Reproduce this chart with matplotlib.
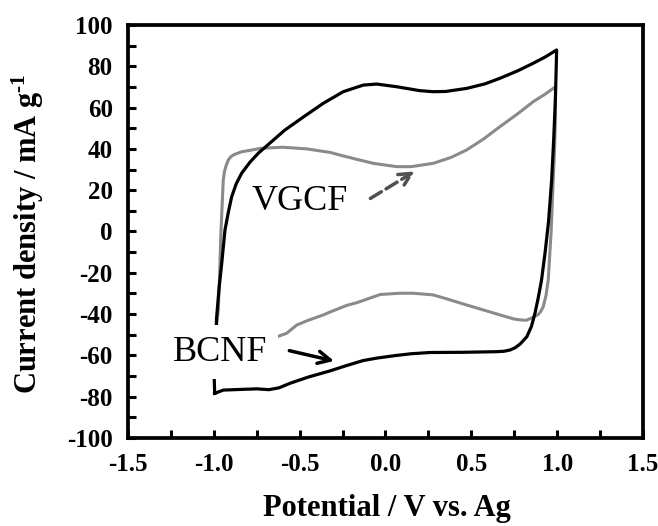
import matplotlib
matplotlib.use("Agg")
import matplotlib.pyplot as plt
from matplotlib.ticker import MultipleLocator

plt.rcParams['font.family'] = ['Liberation Serif', 'DejaVu Serif']
plt.rcParams['mathtext.fontset'] = 'custom'
plt.rcParams['mathtext.rm'] = 'Liberation Serif:bold'
plt.rcParams['mathtext.default'] = 'regular'
plt.rcParams['axes.unicode_minus'] = False

# BCNF loop (black), potential in V, current density in mA/g
bcnf_v = [-0.995, -0.998, -0.99, -0.984, -0.97, -0.954, -0.935, -0.915, -0.896,
          -0.87, -0.838, -0.79, -0.741, -0.65, -0.585, -0.46, -0.362, -0.246,
          -0.129, -0.051, 0.065, 0.2, 0.277, 0.35, 0.473, 0.58, 0.667, 0.77,
          0.859, 0.93, 0.997,
          0.99, 0.98, 0.968, 0.95, 0.93, 0.909, 0.89, 0.871, 0.85, 0.823,
          0.784, 0.755, 0.725, 0.69, 0.648, 0.45, 0.259, 0.15, 0.065, -0.05,
          -0.13, -0.23, -0.323, -0.45, -0.556, -0.62, -0.68, -0.75, -0.85,
          -0.945, -0.995]
bcnf_i = [-78.4, -70, -55, -42, -28, -15.4, 0.7, 9.5, 16.8,
          23, 28.2, 33.5, 37.9, 44.5, 49.2, 56.5, 62.1, 67.7,
          70.9, 71.4, 70.1, 68.2, 67.7, 67.8, 69.3, 71.5, 74.2, 77.8,
          81.4, 84.5, 87.9,
          65, 45, 25, 5, -10, -23.5, -32, -39.5, -46, -51,
          -54.5, -56.3, -57.4, -58, -58.2, -58.5, -58.6, -59.2, -60, -61.3,
          -62.5, -65, -67.5, -70.5, -73.5, -75.7, -76.6, -76.2, -76.5,
          -76.8, -78.4]

# VGCF loop (grey)
vgcf_v = [-0.99, -0.99, -0.974, -0.966, -0.958, -0.945, -0.938, -0.93, -0.916,
          -0.9, -0.88, -0.838, -0.722, -0.6, -0.527, -0.459, -0.323, -0.265,
          -0.17, -0.071, 0.065, 0.15, 0.278, 0.38, 0.473, 0.57, 0.667, 0.77,
          0.861, 0.93, 0.977, 0.99,
          0.99, 0.985, 0.977, 0.965, 0.955, 0.948, 0.935, 0.919, 0.905, 0.89,
          0.861, 0.82, 0.784, 0.745, 0.667, 0.55, 0.473, 0.356, 0.277, 0.162,
          0.084, -0.03, -0.168, -0.226, -0.323, -0.362, -0.45, -0.517,
          -0.576, -0.65, -0.8, -0.93, -0.99]
vgcf_i = [-57, -50, -38, -20, 0.7, 24.9, 29, 31.5, 34.6,
          36.3, 37.3, 38.6, 40.3, 40.8, 40.4, 40.0, 38.3, 37,
          35, 33, 31.4, 31.4, 33, 35.8, 39.5, 44.7, 50.8, 57,
          62.9, 66.5, 69.3, 70,
          55, 40, 25, 0, -13.8, -23.5, -31, -36.4, -38.6, -40.2,
          -41.5, -43, -42.8, -42.3, -40.4, -37.5, -35.6, -32.6, -30.7, -29.9,
          -29.9, -30.5, -34.5, -35.8, -39, -40.4, -43, -45.3,
          -49.3, -51.5, -54, -56, -57]

fig = plt.figure(figsize=(6.58, 5.26), dpi=100)
ax = fig.add_axes([0.1945, 0.1673, 0.7827, 0.7852])

ax.plot(vgcf_v, vgcf_i, color='#8a8a8a', lw=2.2, zorder=2,
        solid_joinstyle='round')
ax.plot(bcnf_v, bcnf_i, color='black', lw=2.3, zorder=3,
        solid_joinstyle='round')

# labels
ax.text(-0.5, 14.3, 'VGCF', fontsize=26, ha='center', va='center', zorder=5)
ax.text(-0.964, -58.4, 'BCNF', fontsize=26, ha='center', va='center', zorder=5,
        bbox=dict(boxstyle='square,pad=0.3', fc='white', ec='none'))
ax.annotate('', xy=(0.184, 29.8), xytext=(-0.102, 15.3),
            arrowprops=dict(arrowstyle='->', linestyle='--', color='#505050',
                            lw=2.5, mutation_scale=22), zorder=6)
ax.annotate('', xy=(-0.284, -63.0), xytext=(-0.576, -57.4),
            arrowprops=dict(arrowstyle='->', color='black',
                            lw=2.5, mutation_scale=22), zorder=6)

ax.set_xlim(-1.5, 1.5)
ax.set_ylim(-100, 100)
ax.xaxis.set_major_locator(MultipleLocator(0.5))
ax.xaxis.set_minor_locator(MultipleLocator(0.25))
ax.yaxis.set_major_locator(MultipleLocator(20))
ax.yaxis.set_minor_locator(MultipleLocator(10))
ax.xaxis.set_major_formatter(plt.FormatStrFormatter('%.1f'))
ax.tick_params(which='both', direction='in', top=False, right=False,
               width=2.2, length=5.5, labelsize=18, pad=11)
for lab in ax.get_xticklabels() + ax.get_yticklabels():
    lab.set_fontweight('bold')
for sp in ax.spines.values():
    sp.set_linewidth(2.7)

ax.set_xlabel('Potential / V vs. Ag', fontsize=22, fontweight='bold')
ax.set_ylabel(r'Current density / mA g$^{\text{-1}}$', fontsize=22,
              fontweight='bold')
ax.xaxis.set_label_coords(0.503, -0.135)
ax.yaxis.set_label_coords(-0.16, 0.494)

fig.savefig('out.png', dpi=100)
